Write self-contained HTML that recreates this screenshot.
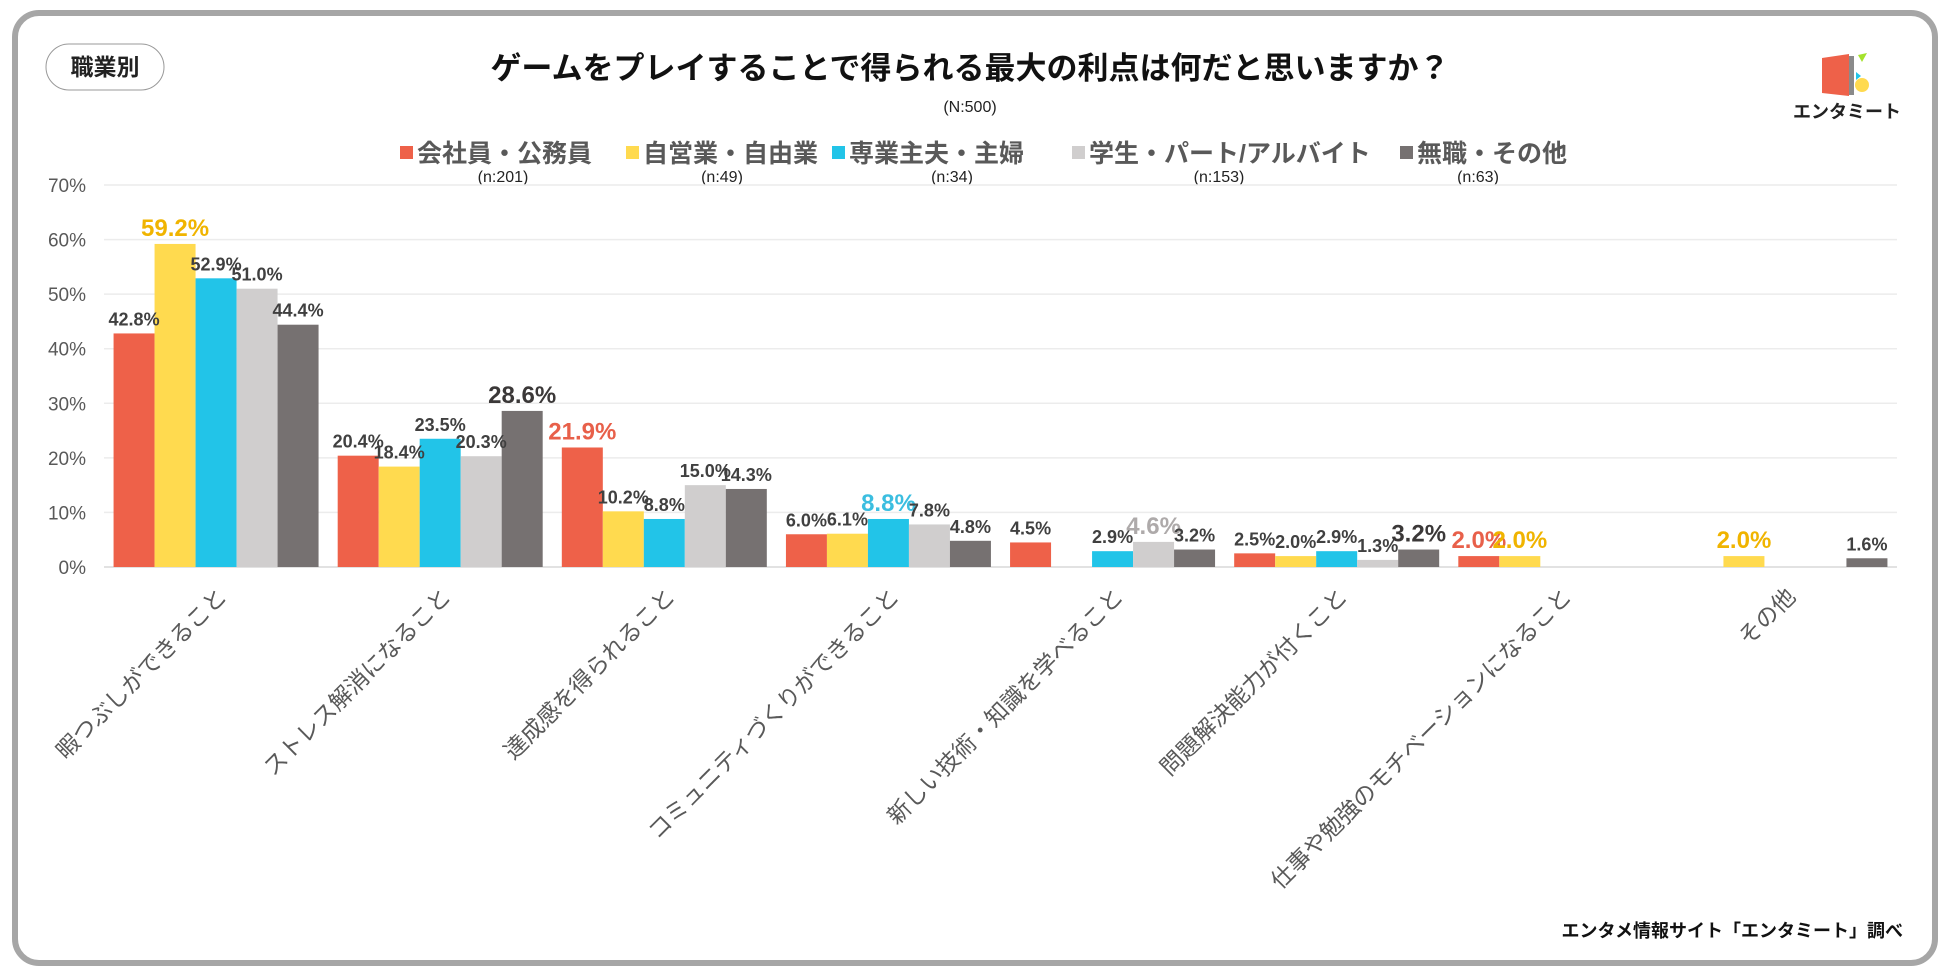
<!DOCTYPE html>
<html><head><meta charset="utf-8">
<style>
html,body{margin:0;padding:0;background:#fff;}
svg{display:block;font-family:"Liberation Sans","Noto Sans CJK JP",sans-serif;}
</style></head>
<body>
<svg id="chart" width="1950" height="975" viewBox="0 0 1950 975">
  <rect x="15" y="13" width="1920" height="950" rx="24" fill="#fff" stroke="#a6a6a6" stroke-width="6"/>
  <rect x="46" y="44" width="118" height="46" rx="23" fill="#fff" stroke="#999" stroke-width="1"/>
  <text x="105" y="75" text-anchor="middle" font-size="23" font-weight="bold" fill="#222">職業別</text>
  <text x="970" y="79" text-anchor="middle" font-size="31" font-weight="bold" fill="#111">ゲームをプレイすることで得られる最大の利点は何だと思いますか？</text>
  <text x="970" y="112" text-anchor="middle" font-size="16" fill="#222">(N:500)</text>
  <g>
    <polygon points="1822,58 1849,54 1849,96 1822,93" fill="#EE6149"/>
    <rect x="1849" y="56" width="5" height="39" fill="#8a8a8a"/>
    <polygon points="1856,72 1861,76 1856,80" fill="#22C4E8"/>
    <polygon points="1858,55 1867,53 1862,62" fill="#a4e22c"/>
    <circle cx="1862" cy="85" r="7" fill="#FFDA4F"/>
    <text x="1847" y="118" text-anchor="middle" font-size="18" font-weight="bold" fill="#222">エンタミート</text>
  </g>
  <g id="legend"></g>
  <g id="grid"></g>
  <g id="yaxis"></g>
  <g id="bars"></g>
  <g id="labels"></g>
  <g id="xaxis"></g>
  <text x="1903" y="937" text-anchor="end" font-size="18" font-weight="bold" fill="#111">エンタメ情報サイト「エンタミート」調べ</text>
</svg>
<script>
const categories = ["暇つぶしができること","ストレス解消になること","達成感を得られること","コミュニティづくりができること","新しい技術・知識を学べること","問題解決能力が付くこと","仕事や勉強のモチベーションになること","その他"];
const seriesNames = ["会社員・公務員","自営業・自由業","専業主夫・主婦","学生・パート/アルバイト","無職・その他"];
const seriesN = ["(n:201)","(n:49)","(n:34)","(n:153)","(n:63)"];
const s1 = [42.8,20.4,21.9,6.0,4.5,2.5,2.0,0];
const s2 = [59.2,18.4,10.2,6.1,0,2.0,2.0,2.0];
const s3 = [52.9,23.5,8.8,8.8,2.9,2.9,0,0];
const s4 = [51.0,20.3,15.0,7.8,4.6,1.3,0,0];
const s5 = [44.4,28.6,14.3,4.8,3.2,3.2,0,1.6];
const yTicks = [0,10,20,30,40,50,60,70];

const series = [s1,s2,s3,s4,s5];
const colors = ["#EE6149","#FFDA4F","#22C4E8","#D0CECE","#767171"];
const hiColors = ["#E8604A","#F0B400","#3BBEE0","#AEAAAA","#3B3838"];
const NS = "http://www.w3.org/2000/svg";
const X0 = 104, X1 = 1897, Y0 = 567, Y70 = 185;
const groupW = (X1 - X0) / categories.length, barW = 41, padL = (groupW - barW*5)/2;
function y(v){ return Y0 - (v/70)*(Y0-Y70); }
function xBar(c,s){ return X0 + c*groupW + padL + s*barW; }
function mk(tag, attrs, parent){ const e=document.createElementNS(NS,tag); for(const k in attrs) e.setAttribute(k,attrs[k]); parent.appendChild(e); return e; }

const grid=document.getElementById('grid'), yaxis=document.getElementById('yaxis');
yTicks.forEach(t=>{
  const l=mk('line',{x1:X0,x2:X1,y1:y(t),y2:y(t),stroke:t===0?'#d9d9d9':'#ececec','stroke-width':1.5},grid);
  
  
  const tx=mk('text',{x:86,y:y(t)+7,'text-anchor':'end','font-size':19,fill:'#595959'},yaxis);
  tx.textContent=t+'%';
  
  
});

const legend=document.getElementById('legend');
const legX=[400,626,832,1072,1400], nX=[503,722,952,1219,1478];
seriesNames.forEach((n,i)=>{
  const r=mk('rect',{x:legX[i],y:146,width:13,height:13,fill:colors[i]},legend);
  
  
  const t=mk('text',{x:legX[i]+17,y:162,'font-size':25,fill:'#595959','font-weight':'bold'},legend);
  t.textContent=n;
  
  
  const t2=mk('text',{x:nX[i],y:182,'text-anchor':'middle','font-size':16,fill:'#222'},legend);
  t2.textContent=seriesN[i];
  
  
});

const bars=document.getElementById('bars'), labels=document.getElementById('labels');
categories.forEach((c,ci)=>{
  let mx=Math.max(...series.map(s=>s[ci]));
  series.forEach((s,si)=>{
    const v=s[ci];
    if(v<=0) return;
    const b=mk('rect',{x:xBar(ci,si),y:y(v),width:barW,height:Y0-y(v),fill:colors[si]},bars);
    
    
    const hi = v===mx;
    const t=mk('text',{x:xBar(ci,si)+barW/2,y:y(v)-8,'text-anchor':'middle','font-size':hi?24:18,'font-weight':'bold',fill:hi?hiColors[si]:'#404040'},labels);
    t.textContent=v.toFixed(1)+'%';
    
    
  });
});

const xaxis=document.getElementById('xaxis');
categories.forEach((c,ci)=>{
  const cx=X0+ci*groupW+groupW/2+12, cy=598;
  const t=mk('text',{x:cx,y:cy,'text-anchor':'end','font-size':23,fill:'#595959',transform:'rotate(-45 '+cx+' '+cy+')'},xaxis);
  t.textContent=c;
  
  
});
</script>
</body></html>
